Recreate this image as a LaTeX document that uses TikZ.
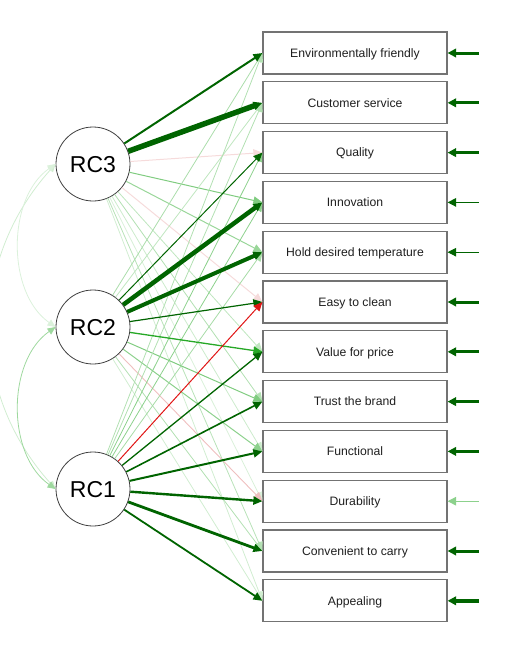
\documentclass[tikz,border=0pt]{standalone}
\usepackage{fontspec}
\setmainfont{Liberation Sans}
\usetikzlibrary{arrows.meta}
\definecolor{gS}{HTML}{006400}
\definecolor{gW}{HTML}{009900}
\definecolor{rS}{HTML}{E01515}
\definecolor{rW}{HTML}{BF0000}
\newcommand\ldedge[4]{\draw[ld,line width=#3pt,color=#4] (#1) -- (#2.west);}
\newcommand\resedge[3]{\draw[res,line width=#2pt,color=#3] (e#1) -- (i#1.east);}
\begin{document}
\begin{tikzpicture}[x=1pt,y=-1pt,
  lat/.style={circle,draw=black!75,fill=white,line width=0.8pt,minimum size=74pt,inner sep=0pt,text height=16.5pt,text depth=0pt,font=\fontsize{23}{23}\selectfont},
  item/.style={rectangle,draw=black!55,fill=white,line width=1.2pt,minimum width=184pt,minimum height=42pt,inner sep=0pt,text height=8.7pt,text depth=0pt,font=\fontsize{12.2}{13}\selectfont,text=black!88},
  ld/.style={-{Triangle[length=9pt,width=8pt]}},
  res/.style={-{Triangle[length=8.5pt,width=8.5pt]}},
  cov/.style={{Triangle[length=8pt,width=7pt]}-{Triangle[length=8pt,width=7pt]},line width=0.8pt}]
\useasboundingbox (0,0) rectangle (529,662);

% latent nodes
\node[lat] (rc3) at (93,164) {RC3};
\node[lat] (rc2) at (93,327) {RC2};
\node[lat] (rc1) at (93,489) {RC1};

% item boxes
\node[item] (i1)  at (355,53)    {Environmentally friendly};
\node[item] (i2)  at (355,102.8) {Customer service};
\node[item] (i3)  at (355,152.6) {Quality};
\node[item] (i4)  at (355,202.4) {Innovation};
\node[item] (i5)  at (355,252.2) {Hold desired temperature};
\node[item] (i6)  at (355,302)   {Easy to clean};
\node[item] (i7)  at (355,351.8) {Value for price};
\node[item] (i8)  at (355,401.6) {Trust the brand};
\node[item] (i9)  at (355,451.4) {Functional};
\node[item] (i10) at (355,501.2) {Durability};
\node[item] (i11) at (355,551)   {Convenient to carry};
\node[item] (i12) at (355,600.8) {Appealing};

% residual start points
\foreach \k in {1,...,12} {\coordinate (e\k) at ([xshift=31pt]i\k.east);}

% covariances
\begin{scope}
\clip (0,0) rectangle (529,662);
\draw[cov,color=gW!18!white] (rc3.west) .. controls +(-87,97) and +(-87,-97) .. (rc1.west);
\draw[cov,color=gW!14!white] (rc3.west) .. controls +(-49,34) and +(-49,-34) .. (rc2.west);
\draw[cov,color=gW!38!white] (rc2.west) .. controls +(-49,34) and +(-49,-34) .. (rc1.west);
\end{scope}

% weak loadings
\ldedge{rc3}{i10}{0.8}{gW!15!white}
\ldedge{rc3}{i9}{0.8}{gW!20!white}
\ldedge{rc3}{i12}{0.8}{gW!18!white}
\ldedge{rc3}{i7}{0.8}{gW!25!white}
\ldedge{rc3}{i8}{0.8}{gW!30!white}
\ldedge{rc3}{i11}{0.8}{gW!28!white}
\ldedge{rc3}{i3}{1.0}{rW!14!white}
\ldedge{rc3}{i6}{1.0}{rW!14!white}
\ldedge{rc3}{i5}{1.0}{gW!40!white}
\ldedge{rc3}{i4}{1.0}{gW!50!white}

\ldedge{rc2}{i12}{0.8}{gW!18!white}
\ldedge{rc2}{i2}{0.8}{gW!25!white}
\ldedge{rc2}{i1}{0.8}{gW!33!white}
\ldedge{rc2}{i11}{0.8}{gW!30!white}
\ldedge{rc2}{i10}{0.9}{rW!25!white}
\ldedge{rc2}{i9}{1.0}{gW!45!white}
\ldedge{rc2}{i8}{1.0}{gW!50!white}

\ldedge{rc1}{i1}{0.8}{gW!30!white}
\ldedge{rc1}{i2}{0.8}{gW!30!white}
\ldedge{rc1}{i5}{0.8}{gW!35!white}
\ldedge{rc1}{i3}{0.8}{gW!45!white}
\ldedge{rc1}{i4}{0.8}{gW!45!white}

% strong loadings
\ldedge{rc2}{i7}{1.3}{gW!85!white}
\ldedge{rc2}{i3}{1.0}{gS}
\ldedge{rc2}{i6}{1.2}{gS}
\ldedge{rc2}{i5}{4.0}{gS}
\ldedge{rc2}{i4}{4.5}{gS}

\ldedge{rc1}{i6}{1.0}{rS}
\ldedge{rc1}{i7}{1.3}{gS}
\ldedge{rc1}{i8}{1.6}{gS}
\ldedge{rc1}{i9}{2.0}{gS}
\ldedge{rc1}{i12}{1.8}{gS}
\ldedge{rc1}{i10}{2.4}{gS}
\ldedge{rc1}{i11}{2.8}{gS}

\ldedge{rc3}{i1}{2.0}{gS}
\ldedge{rc3}{i2}{5.5}{gS}

% residuals
\resedge{1}{3.0}{gS}
\resedge{2}{3.0}{gS}
\resedge{3}{3.5}{gS}
\resedge{4}{1.3}{gS}
\resedge{5}{1.0}{gS}
\resedge{6}{3.0}{gS}
\resedge{7}{3.0}{gS}
\resedge{8}{3.0}{gS}
\resedge{9}{3.0}{gS}
\resedge{10}{1.2}{gW!45!white}
\resedge{11}{3.0}{gS}
\resedge{12}{3.5}{gS}
\end{tikzpicture}
\end{document}
